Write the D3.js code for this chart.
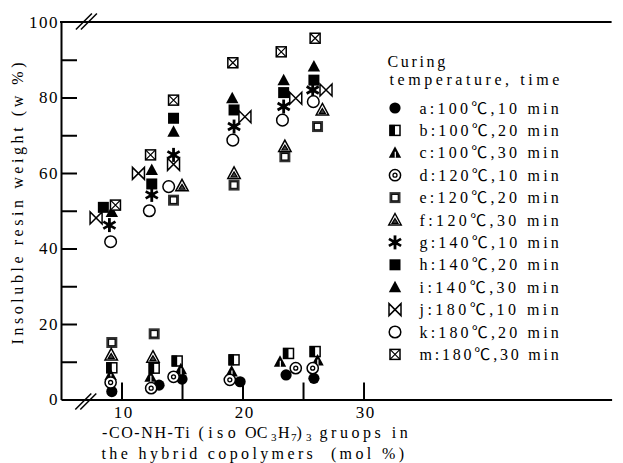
<!DOCTYPE html>
<html>
<head>
<meta charset="utf-8">
<script src="https://cdn.jsdelivr.net/npm/d3@7"></script>
<style>
  html, body { margin: 0; padding: 0; background: #fff; }
  svg { display: block; }
  text {
    font-family: "Liberation Serif", "Noto Sans CJK JP", serif;
    font-size: 16px;
    fill: #000;
    white-space: pre;
  }
  .tickLabel { font-size: 17px; letter-spacing: 1.5px; }
  .serif { font-size: 16px; letter-spacing: 1.6px; }
  .sub { font-size: 11px; }
</style>
</head>
<body>
<svg id="chart" width="623" height="463"></svg>
<script>
// Curing conditions (series)
const seriesKeys   = ["a", "b", "c", "d", "e", "f", "g", "h", "i", "j", "k", "m"];
const curingTemps  = [100, 100, 100, 120, 120, 120, 140, 140, 140, 180, 180, 180];
const curingTimes  = [10, 20, 30, 10, 20, 30, 10, 20, 30, 10, 20, 30];

// [mol %, insoluble resin weight %]
const seriesA = [[9.2, 2.1], [13.1, 3.8], [15.0, 5.4], [19.8, 4.7], [23.6, 6.5], [25.9, 5.6]];
const seriesB = [[9.2, 8.4], [12.7, 8.3], [14.6, 10.2], [19.3, 10.5], [23.8, 12.2], [26.0, 12.7]];
const seriesC = [[9.1, 6.5], [12.4, 6.0], [14.9, 8.0], [19.1, 7.4], [23.1, 10.0], [26.2, 10.3]];
const seriesD = [[9.1, 4.5], [12.45, 3.0], [14.3, 6.0], [18.95, 5.2], [24.4, 8.3], [25.8, 8.3]];
const seriesE = [[9.2, 15.1], [12.7, 17.4], [14.3, 52.8], [19.3, 56.8], [23.5, 64.3], [26.2, 72.3]];
const seriesF = [[9.15, 11.8], [12.6, 11.2], [15.0, 56.6], [19.3, 59.9], [23.5, 67.0], [26.6, 76.7]];
const seriesG = [[9.0, 46.2], [12.5, 54.2], [14.3, 64.8], [19.3, 72.3], [23.4, 77.6], [25.8, 82.0]];
const seriesH = [[8.5, 50.9], [12.5, 57.1], [14.3, 74.5], [19.3, 76.7], [23.4, 81.3], [25.9, 84.6]];
const seriesI = [[9.2, 49.7], [12.5, 60.8], [14.3, 70.9], [19.15, 79.8], [23.4, 84.6], [25.9, 88.2]];
const seriesJ = [[7.9, 48.1], [11.4, 59.9], [14.3, 62.3], [20.2, 74.9], [24.4, 79.8], [26.9, 82.0]];
const seriesK = [[9.1, 41.8], [12.3, 50.0], [13.9, 56.4], [19.2, 68.7], [23.3, 74.0], [25.85, 78.9]];
const seriesM = [[9.5, 51.5], [12.4, 64.8], [14.3, 79.3], [19.2, 89.2], [23.2, 92.1], [26.0, 95.7]];

const seriesPoints = [seriesA, seriesB, seriesC, seriesD, seriesE, seriesF,
                      seriesG, seriesH, seriesI, seriesJ, seriesK, seriesM];

// Axis ticks and labels
const xTickValues  = [10, 15, 20, 25, 30];
const xLabelValues = [10, 20, 30];
const yTickValues  = [10, 20, 30, 40, 50, 60, 70, 80, 90];
const yLabelValues = [0, 20, 40, 60, 80, 100];

const yTitle = "Insoluble resin weight (w %)";
const legendTitle = ["Curing", "temperature, time"];
const xTitleLine2 = "the hybrid copolymers  (mol %)";

const svg = d3.select("#chart");

const x = d3.scaleLinear().domain([5, 50.5]).range([61, 611.6]);
const y = d3.scaleLinear().domain([0, 100]).range([399.5, 22]);

const stroke = "#000";
const CELL = 10.2;      // fixed character pitch

// Evenly pitched text: the whole string is stretched to a width of n cells.
function pitchText(parent, str, transform) {
  let cells = 0;
  for (const ch of str) cells += /[\u2103]/.test(ch) ? 2 : 1;
  return parent.append("text")
    .attr("transform", transform)
    .attr("x", 0.15 * CELL)
    .attr("textLength", (cells - 0.35) * CELL)
    .attr("lengthAdjust", "spacing")
    .text(str);
}

// ---- axes ----
const yAxisG = svg.append("g").attr("transform", `translate(${x(5)},0)`)
  .call(d3.axisLeft(y).tickValues(yTickValues).tickSize(-16).tickSizeOuter(0).tickFormat(""));
yAxisG.select(".domain").attr("stroke-width", 2);
yAxisG.selectAll(".tick line").attr("stroke-width", 2);

const yLabG = svg.append("g").attr("transform", `translate(${x(5)},0)`)
  .call(d3.axisLeft(y).tickValues(yLabelValues).tickSize(0).tickPadding(2));
yLabG.select(".domain").remove();
yLabG.selectAll("text").attr("font-family", null).attr("font-size", null)
  .attr("class", "tickLabel");

const xAxisG = svg.append("g").attr("transform", `translate(0,${y(0)})`)
  .call(d3.axisBottom(x).tickValues(xTickValues).tickSize(-17).tickSizeOuter(0).tickFormat(""));
xAxisG.select(".domain").attr("stroke-width", 2);
xAxisG.selectAll(".tick line").attr("stroke-width", 2);

const xLabG = svg.append("g").attr("transform", `translate(0,${y(0)})`)
  .call(d3.axisBottom(x).tickValues(xLabelValues).tickSize(0).tickPadding(6));
xLabG.select(".domain").remove();
xLabG.selectAll("text").attr("font-family", null).attr("font-size", null)
  .attr("class", "tickLabel").attr("dx", "0.1em");

// top frame line
svg.append("line")
  .attr("x1", x(5) - 1).attr("x2", x(50.5))
  .attr("y1", y(100)).attr("y2", y(100))
  .attr("stroke", stroke).attr("stroke-width", 2);

// axis break marks
function breakMark(cx, cy) {
  [-2.5, 2.5].forEach(o => {
    svg.append("line")
      .attr("x1", cx + o - 8).attr("y1", cy + 8)
      .attr("x2", cx + o + 8).attr("y2", cy - 8)
      .attr("stroke", stroke).attr("stroke-width", 1.5);
  });
}
breakMark(x(7.1), y(100) - 0.5);
breakMark(x(7.05), y(0) + 2);

// ---- markers ----
function drawSymbol(g, key) {
  const sw = 1.5;
  const tri = "M0,-6.5L6.2,5L-6.2,5Z";
  switch (key) {
    case "a":
      g.append("circle").attr("r", 5.6).attr("fill", "#000");
      break;
    case "b":
      g.append("rect").attr("x", -5).attr("y", -5).attr("width", 10).attr("height", 10)
        .attr("fill", "#fff").attr("stroke", stroke).attr("stroke-width", sw);
      g.append("rect").attr("x", -5.5).attr("y", -5.5).attr("width", 5.5).attr("height", 11)
        .attr("fill", "#000");
      break;
    case "c":
      g.append("path").attr("d", tri).attr("fill", "#000");
      g.append("line").attr("x1", 0.3).attr("y1", -1).attr("x2", 0.3).attr("y2", 5)
        .attr("stroke", "#fff").attr("stroke-width", 1.2);
      break;
    case "d":
      g.append("circle").attr("r", 5.6).attr("fill", "#fff")
        .attr("stroke", stroke).attr("stroke-width", sw);
      g.append("circle").attr("r", 2).attr("fill", "none")
        .attr("stroke", stroke).attr("stroke-width", 1.3);
      break;
    case "e":
      g.append("rect").attr("x", -5.5).attr("y", -5.5).attr("width", 11).attr("height", 11)
        .attr("fill", "#333");
      g.append("rect").attr("x", -3.2).attr("y", -3.2).attr("width", 6.4).attr("height", 6.4)
        .attr("fill", "#fff").attr("stroke", "#000").attr("stroke-width", 1);
      break;
    case "f":
      g.append("path").attr("d", tri).attr("fill", "#fff")
        .attr("stroke", stroke).attr("stroke-width", sw);
      g.append("path").attr("d", "M0,-1.5L3,3.4L-3,3.4Z").attr("fill", "#444")
        .attr("stroke", stroke).attr("stroke-width", 1.2);
      break;
    case "g":
      [0, 60, 120].forEach(a => {
        g.append("line").attr("x1", 0).attr("y1", -7).attr("x2", 0).attr("y2", 7)
          .attr("transform", `rotate(${a})`)
          .attr("stroke", stroke).attr("stroke-width", 2.8);
      });
      g.append("circle").attr("r", 2.8).attr("fill", "#000");
      break;
    case "h":
      g.append("rect").attr("x", -5.5).attr("y", -5.5).attr("width", 11).attr("height", 11)
        .attr("fill", "#000");
      break;
    case "i":
      g.append("path").attr("d", tri).attr("fill", "#000");
      break;
    case "j":
      g.append("path").attr("d", "M-6,-6L-6,6L6,-6L6,6Z").attr("fill", "#fff")
        .attr("stroke", stroke).attr("stroke-width", sw).attr("stroke-linejoin", "miter");
      break;
    case "k":
      g.append("circle").attr("r", 5.8).attr("fill", "#fff")
        .attr("stroke", stroke).attr("stroke-width", sw);
      break;
    case "m":
      g.append("rect").attr("x", -5).attr("y", -5).attr("width", 10).attr("height", 10)
        .attr("fill", "#fff").attr("stroke", stroke).attr("stroke-width", sw);
      g.append("path").attr("d", "M-5,-5L5,5M5,-5L-5,5")
        .attr("stroke", stroke).attr("stroke-width", 1.2);
      break;
  }
}

const marks = svg.append("g");
seriesKeys.forEach((key, si) => {
  marks.selectAll(null)
    .data(seriesPoints[si])
    .enter()
    .append("g")
    .attr("transform", d => `translate(${x(d[0])},${y(d[1])})`)
    .each(function () { drawSymbol(d3.select(this), key); });
});

// ---- legend ----
const legend = svg.append("g");
pitchText(legend, legendTitle[0], "translate(386,67)");
pitchText(legend, legendTitle[1], "translate(388,85)");

seriesKeys.forEach((key, i) => {
  const cy = 108 + i * 22.4;
  const icon = legend.append("g").attr("transform", `translate(395,${cy})`);
  drawSymbol(icon, key);
  pitchText(legend, `${key}:${curingTemps[i]}\u2103,${curingTimes[i]} min`,
    `translate(418,${cy + 5.5})`);
});

// ---- axis titles ----
pitchText(svg, yTitle, "translate(23,346) rotate(-90)");

// first line mixes proportional chemistry text with evenly pitched words
const xt1 = svg.append("text").attr("y", 438);
xt1.append("tspan").attr("class", "serif").attr("x", 102).text("-CO-NH-Ti");
xt1.append("tspan").attr("class", "serif").attr("x", 245).style("letter-spacing", "0.3px").text("OC");
xt1.append("tspan").attr("class", "sub").attr("x", 271).attr("dy", 3).text("3");
xt1.append("tspan").attr("class", "serif").attr("x", 278).attr("dy", -3).style("letter-spacing", "0").text("H");
xt1.append("tspan").attr("class", "sub").attr("x", 291).attr("dy", 3).text("7");
xt1.append("tspan").attr("class", "sub").attr("x", 306).attr("dy", 0).text("3");
pitchText(svg, "(iso", "translate(197,438)");
pitchText(svg, ")", "translate(295,438)");
pitchText(svg, "gruops in", "translate(318,438)");

pitchText(svg, xTitleLine2, "translate(100,459)");
</script>
</body>
</html>
